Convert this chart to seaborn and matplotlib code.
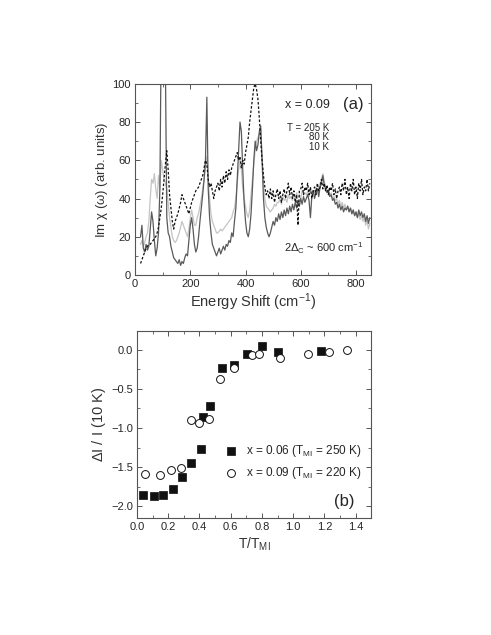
import numpy as np
import pandas as pd
import seaborn as sns
import matplotlib.pyplot as plt
from matplotlib.ticker import MultipleLocator

sns.set_theme(style="ticks")
plt.rcParams['font.family'] = ['Liberation Sans', 'DejaVu Sans']
plt.rcParams['mathtext.fontset'] = 'custom'
plt.rcParams['mathtext.rm'] = 'Liberation Sans'
plt.rcParams['mathtext.it'] = 'Liberation Sans'

# ---- panel (a): Raman spectra, x = 0.09 ----
energy = np.arange(20, 851, 5)  # cm^-1 sample grid

spec_10K = [20, 26, 14, 12, 16, 13, 15, 24, 33, 28,
            18, 10, 14, 22, 45, 130, 130, 130, 110, 30,
            22, 20, 15, 12, 9, 8, 7, 6, 8, 5,
            7, 6, 9, 11, 10, 18, 26, 30, 24, 16,
            12, 14, 20, 28, 35, 42, 50, 60, 93, 45,
            30, 22, 16, 14, 12, 10, 12, 14, 11, 13,
            15, 13, 16, 15, 18, 17, 22, 20, 28, 35,
            50, 65, 80, 75, 55, 38, 28, 22, 20, 24,
            32, 45, 60, 70, 65, 68, 75, 78, 60, 40,
            30, 25, 22, 20, 22, 25, 28, 26, 30, 28,
            32, 29, 33, 30, 34, 31, 35, 32, 36, 33,
            37, 34, 38, 35, 39, 36, 40, 37, 41, 38,
            40, 42, 39, 30, 41, 44, 40, 43, 45, 41,
            46, 48, 52, 47, 45, 43, 44, 41, 42, 39,
            40, 37, 38, 35, 37, 34, 36, 33, 35, 34,
            36, 33, 35, 32, 34, 31, 33, 30, 34, 31,
            33, 30, 32, 28, 31, 27, 30]

spec_80K = [16, 18, 15, 17, 20, 22, 28, 40, 50, 48,
            53, 45, 40, 52, 45, 60, 55, 50, 48, 45,
            38, 30, 25, 20, 18, 17, 18, 20, 22, 25,
            28, 26, 24, 22, 20, 24, 30, 34, 30, 26,
            26, 30, 32, 36, 40, 45, 50, 56, 62, 50,
            40, 32, 28, 26, 24, 22, 22, 23, 24, 23,
            24, 25, 26, 27, 28, 29, 30, 33, 35, 40,
            48, 55, 60, 55, 45, 40, 36, 32, 30, 34,
            42, 50, 58, 65, 70, 72, 74, 76, 62, 48,
            40, 36, 35, 34, 33, 34, 35, 37, 36, 38,
            38, 40, 37, 41, 39, 40, 38, 42, 40, 41,
            39, 42, 40, 43, 41, 42, 40, 44, 42, 43,
            42, 44, 41, 45, 43, 44, 42, 46, 44, 46,
            48, 50, 53, 49, 46, 44, 45, 42, 43, 40,
            41, 39, 40, 37, 39, 36, 38, 35, 37, 34,
            36, 33, 35, 32, 34, 31, 33, 30, 32, 29,
            31, 28, 30, 26, 29, 24, 27]

spec_205K = [6, 8, 10, 12, 14, 15, 16, 16, 17, 18,
             19, 20, 22, 25, 30, 35, 42, 50, 58, 65,
             55, 42, 35, 28, 24, 28, 30, 32, 35, 38,
             42, 40, 38, 36, 34, 32, 35, 38, 40, 42,
             44, 45, 46, 48, 50, 52, 56, 60, 58, 50,
             46, 48, 44, 40, 44, 46, 48, 44, 50, 46,
             52, 48, 54, 50, 55, 52, 56, 58, 60, 62,
             64, 60, 62, 56, 60, 58, 64, 68, 72, 80,
             86, 92, 98, 100, 97, 92, 82, 70, 60, 52,
             46, 42, 44, 40, 45, 40, 44, 38, 42, 45,
             40, 44, 38, 42, 45, 40, 44, 48, 42, 46,
             40, 44, 38, 42, 26, 44, 45, 48, 42, 46,
             44, 48, 42, 46, 40, 44, 46, 42, 48, 44,
             46, 50, 45, 48, 44, 47, 42, 46, 44, 48,
             42, 45, 40, 44, 46, 42, 48, 44, 50, 42,
             46, 40, 48, 44, 50, 42, 46, 40, 48, 44,
             50, 42, 46, 44, 50, 44, 48]

# ---- panel (b): normalized intensity change ----
t_x006 = [0.04, 0.107, 0.168, 0.228, 0.288, 0.347, 0.407, 0.424, 0.467,
          0.545, 0.622, 0.703, 0.80, 0.90, 1.18]
di_x006 = [-1.86, -1.87, -1.855, -1.78, -1.62, -1.45, -1.27, -0.86, -0.715,
           -0.234, -0.19, -0.06, 0.047, -0.026, -0.013]
t_x009 = [0.049, 0.147, 0.215, 0.283, 0.347, 0.396, 0.464, 0.53, 0.62,
          0.735, 0.78, 0.914, 1.095, 1.23, 1.342]
di_x009 = [-1.59, -1.60, -1.54, -1.51, -0.90, -0.94, -0.88, -0.38, -0.234,
           -0.064, -0.05, -0.106, -0.05, -0.026, -0.004]

fig = plt.figure(figsize=(4.91, 6.35), dpi=100)
ax1 = fig.add_axes([0.275, 0.567, 0.481, 0.301])
ax2 = fig.add_axes([0.279, 0.184, 0.477, 0.295])

sns.lineplot(x=energy, y=spec_80K, ax=ax1, color='#c4c4c4', lw=0.9)
sns.lineplot(x=energy, y=spec_10K, ax=ax1, color='#5a5a5a', lw=0.9)
sns.lineplot(x=energy, y=spec_205K, ax=ax1, color='#111111', lw=0.9, linestyle=(0, (2, 1.5)))
ax1.set_xlim(0, 855)
ax1.set_ylim(0, 100)
ax1.xaxis.set_major_locator(MultipleLocator(200))
ax1.xaxis.set_minor_locator(MultipleLocator(100))
ax1.yaxis.set_major_locator(MultipleLocator(20))
ax1.yaxis.set_minor_locator(MultipleLocator(10))
ax1.set_xlabel('Energy Shift (cm$^{-1}$)', fontsize=10.5, labelpad=2)
ax1.set_ylabel('Im $\\chi$ ($\\omega$) (arb. units)', fontsize=9.5, labelpad=2)
ax1.text(625, 89, 'x = 0.09', fontsize=9, ha='center', va='center')
ax1.text(789, 89, '(a)', fontsize=12, ha='center', va='center')
ax1.text(702, 77, 'T = 205 K', fontsize=7, ha='right', va='center')
ax1.text(702, 72, '80 K', fontsize=7, ha='right', va='center')
ax1.text(702, 67, '10 K', fontsize=7, ha='right', va='center')
ax1.text(684, 14, '2$\\Delta_{\\rm C}$ ~ 600 cm$^{-1}$', fontsize=8, ha='center', va='center')

sns.scatterplot(x=t_x006, y=di_x006, ax=ax2, marker='s', s=30, color='#111111',
                edgecolor='#111111', linewidth=0.5, label='x = 0.06 (T$_{\\rm MI}$ = 250 K)')
sns.scatterplot(x=t_x009, y=di_x009, ax=ax2, marker='o', s=32, facecolor='white',
                edgecolor='#111111', linewidth=0.7, label='x = 0.09 (T$_{\\rm MI}$ = 220 K)')
ax2.set_xlim(0, 1.5)
ax2.set_ylim(-2.15, 0.24)
ax2.xaxis.set_major_locator(MultipleLocator(0.2))
ax2.xaxis.set_minor_locator(MultipleLocator(0.1))
ax2.yaxis.set_major_locator(MultipleLocator(0.5))
ax2.yaxis.set_minor_locator(MultipleLocator(0.25))
ax2.set_xlabel('T/T$_{\\rm MI}$', fontsize=10, labelpad=2)
ax2.set_ylabel('$\\Delta$I / I (10 K)', fontsize=10.5, labelpad=2)
ax2.text(1.33, -1.94, '(b)', fontsize=12, ha='center', va='center')
ax2.legend(loc='center left', bbox_to_anchor=(0.33, 0.30), frameon=False, fontsize=8.5,
           handletextpad=0.8, labelspacing=0.5, handlelength=1.0)

for ax in (ax1, ax2):
    ax.tick_params(which='both', direction='in', top=True, right=True, labelsize=8, pad=3,
                   color='#555555')
    ax.tick_params(which='major', length=3.5, width=0.7)
    ax.tick_params(which='minor', length=2, width=0.6)
    for sp in ax.spines.values():
        sp.set_linewidth(0.8)
        sp.set_color('#555555')
    ax.xaxis.label.set_color('#333333')
    ax.yaxis.label.set_color('#333333')

fig.savefig('out.png', dpi=100)
